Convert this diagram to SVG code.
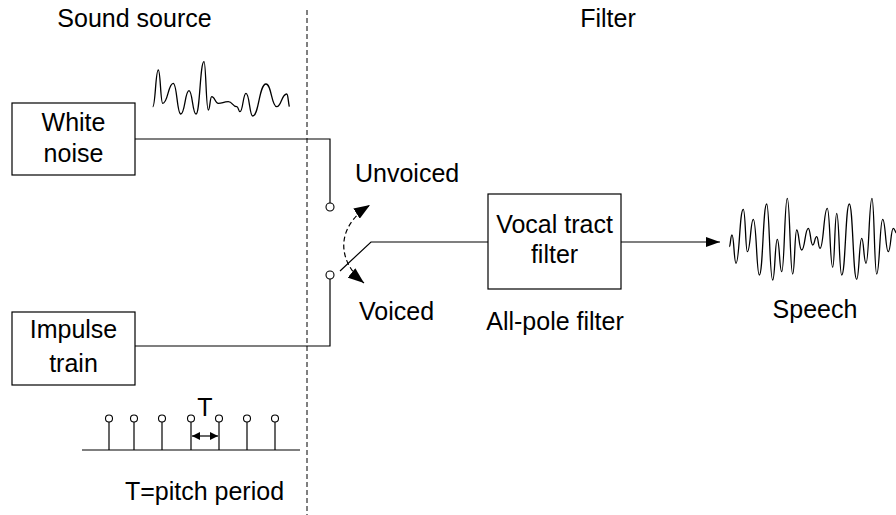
<svg xmlns="http://www.w3.org/2000/svg" width="896" height="515" viewBox="0 0 896 515">
  <style>
    .txt { font-family: "Liberation Sans", Arial, sans-serif; font-size: 25px; fill: #000; }
    .box { fill: #fff; stroke: #000; stroke-width: 1.2; }
    .wire { fill: none; stroke: #000; stroke-width: 1.2; }
    .wave { fill: none; stroke: #000; stroke-width: 1.3; stroke-linejoin: round; }
    .pin { fill: #fff; stroke: #000; stroke-width: 1.1; }
    .divider { fill: none; stroke: #000; stroke-width: 1; stroke-dasharray: 5 3; }
  </style>
  <defs>
    <marker id="arrow" viewBox="0 0 14 10" refX="14" refY="5" markerWidth="14" markerHeight="10" markerUnits="userSpaceOnUse" orient="auto">
      <path d="M0,0 L14,5 L0,10 Z" fill="#000" stroke="none"/>
    </marker>
    <marker id="swing" viewBox="0 0 16 12" refX="16" refY="6" markerWidth="16" markerHeight="12" markerUnits="userSpaceOnUse" orient="auto-start-reverse">
      <path d="M0,0 L16,6 L0,12 Z" fill="#000" stroke="none"/>
    </marker>
    <marker id="tick" viewBox="0 0 8 8" refX="8" refY="4" markerWidth="8" markerHeight="8" markerUnits="userSpaceOnUse" orient="auto-start-reverse">
      <path d="M0,0 L8,4 L0,8 Z" fill="#000" stroke="none"/>
    </marker>
  </defs>

  <!-- source / filter divider -->
  <line class="divider" x1="307" y1="10" x2="307" y2="515"/>

  <!-- section headings -->
  <text class="txt" x="134.5" y="27" text-anchor="middle">Sound source</text>
  <text class="txt" x="608" y="27" text-anchor="middle">Filter</text>

  <!-- connectors -->
  <g id="connectors">
    <polyline class="wire" points="135,139 330,139 330,203"/>
    <polyline class="wire" points="135,346 330,346 330,279"/>
    <polyline class="wire" points="340,271 371,242 488,242"/>
    <line class="wire" x1="621" y1="242" x2="720" y2="242" marker-end="url(#arrow)"/>
  </g>

  <g id="white-noise">
    <rect class="box" x="12" y="103" width="123" height="72"/>
    <text class="txt" x="73.5" y="131" text-anchor="middle">White</text>
    <text class="txt" x="73.5" y="162" text-anchor="middle">noise</text>
  </g>

  <g id="noise-waveform">
    <path class="wave" d="M152.7,106.7 C155.5,106.7 155.5,70 158.3,70 C160.5,70 160.5,103.3 162.7,103.3 C168,103.3 168,83.3 173.3,83.3 C177,83.3 177,114 180.7,114 C185,114 185,90.7 189,90.7 C192.5,90.7 192.5,114 196,114 C200,114 200,61.7 204,61.7 C206,61.7 206,110 208.3,110 C210,110 210,96.7 211.7,96.7 C215,96.7 215,103.3 218.3,103.3 C223,103.3 223,101.7 228.3,101.7 C232.5,101.7 232.5,106.7 236.7,106.7 C238.5,106.7 238.5,111.7 240,111.7 C243,111.7 243,93.3 246,93.3 C249.5,93.3 249.5,116 252.7,116 C259,116 259,84 266,84 C271.5,84 271.5,106.7 276.7,106.7 C281.5,106.7 281.5,94 286.7,94 C288,94 288,100 289.3,106.7"/>
  </g>

  <g id="impulse-train">
    <rect class="box" x="12" y="312" width="123" height="73"/>
    <text class="txt" x="73.5" y="338" text-anchor="middle">Impulse</text>
    <text class="txt" x="73.5" y="372" text-anchor="middle">train</text>
  </g>

  <g id="pulse-sequence">
    <line class="wire" x1="82" y1="450" x2="300" y2="450"/>
    <g class="wire">
      <line x1="109" y1="422" x2="109" y2="450"/>
      <line x1="134" y1="422" x2="134" y2="450"/>
      <line x1="162" y1="422" x2="162" y2="450"/>
      <line x1="191" y1="422" x2="191" y2="450"/>
      <line x1="219" y1="422" x2="219" y2="450"/>
      <line x1="247" y1="422" x2="247" y2="450"/>
      <line x1="275" y1="422" x2="275" y2="450"/>
    </g>
    <circle class="pin" cx="109" cy="418.5" r="3.5"/>
    <circle class="pin" cx="134" cy="418.5" r="3.5"/>
    <circle class="pin" cx="162" cy="418.5" r="3.5"/>
    <circle class="pin" cx="191" cy="418.5" r="3.5"/>
    <circle class="pin" cx="219" cy="418.5" r="3.5"/>
    <circle class="pin" cx="247" cy="418.5" r="3.5"/>
    <circle class="pin" cx="275" cy="418.5" r="3.5"/>
    <line class="wire" x1="192" y1="436" x2="218" y2="436" marker-start="url(#tick)" marker-end="url(#tick)"/>
    <text class="txt" x="205" y="416" text-anchor="middle">T</text>
    <text class="txt" x="204.5" y="500" text-anchor="middle">T=pitch period</text>
  </g>

  <g id="switch">
    <circle class="pin" cx="330" cy="207" r="4"/>
    <circle class="pin" cx="330" cy="275" r="4"/>
    <path class="wire" d="M364,283 C338,262 334,228 370,205" stroke-dasharray="5 3" marker-start="url(#swing)" marker-end="url(#swing)"/>
    <text class="txt" x="355" y="182">Unvoiced</text>
    <text class="txt" x="359" y="320">Voiced</text>
  </g>

  <g id="vocal-tract-filter">
    <rect class="box" x="488" y="194" width="133" height="95"/>
    <text class="txt" x="554.5" y="233" text-anchor="middle">Vocal tract</text>
    <text class="txt" x="554.5" y="263" text-anchor="middle">filter</text>
    <text class="txt" x="555" y="330" text-anchor="middle">All-pole filter</text>
  </g>

  <g id="speech">
    <path class="wave" d="M729.3,246.7 C730.5,246.7 730.5,235 732,235 C734,235 734,263.3 736,263.3 C739.5,263.3 739.5,209.3 743.3,209.3 C745.5,209.3 745.5,251.7 747.3,251.7 C750.5,251.7 750.5,219.3 753.3,219.3 C756.5,219.3 756.5,275 759.3,275 C763,275 763,204 766.7,204 C769.5,204 769.5,280 772.7,280 C775,280 775,239.3 777.3,239.3 C779.5,239.3 779.5,271.7 781.7,271.7 C784.5,271.7 784.5,198.3 787.3,198.3 C790,198.3 790,274 792.7,274 C794.7,274 794.7,230 796.7,230 C799,230 799,250 801.7,250 C805,250 805,228.3 808.3,228.3 C810.5,228.3 810.5,245 812.7,245 C814.7,245 814.7,236.7 816.7,236.7 C818.3,236.7 818.3,248.3 820,248.3 C823.7,248.3 823.7,208.3 827.3,208.3 C830,208.3 830,267.3 832.7,267.3 C834.7,267.3 834.7,213.3 836.7,213.3 C839.2,213.3 839.2,275 841.7,275 C845.5,275 845.5,204 849.3,204 C853,204 853,279.3 856.7,279.3 C859.2,279.3 859.2,238.3 861.7,238.3 C863.8,238.3 863.8,263.3 866,263.3 C869,263.3 869,198.3 872,198.3 C874.3,198.3 874.3,274 876.7,274 C879.7,274 879.7,219.3 882.7,219.3 C885.5,219.3 885.5,251.7 888.3,251.7 C890.8,251.7 890.8,228.3 893.3,228.3 C895,228.3 895,233 896.7,233"/>
    <text class="txt" x="815" y="318" text-anchor="middle">Speech</text>
  </g>
</svg>
